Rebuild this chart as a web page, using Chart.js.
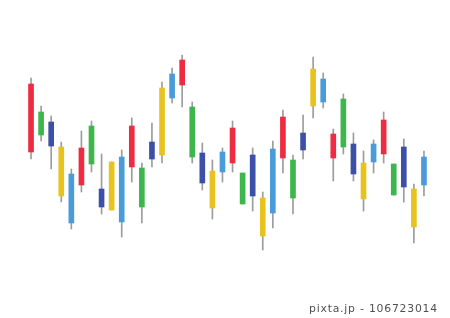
<!DOCTYPE html>
<html>
<head>
<meta charset="utf-8">
<script src="https://cdn.jsdelivr.net/npm/chart.js@4/dist/chart.umd.min.js"></script>
<style>
  html, body { margin: 0; padding: 0; background: #ffffff; }
  #wrap { position: relative; width: 450px; height: 318px; overflow: hidden; }
  #credit { position: absolute; left: 309px; top: 302px; font: 10.8px "DejaVu Sans", sans-serif; letter-spacing: 0.8px; color: #505050; white-space: nowrap; }
</style>
</head>
<body>
<div id="wrap">
  <canvas id="c" width="450" height="318"></canvas>
  <div id="credit">pixta.jp - 106723014</div>
</div>
<script>
// Candle values (arbitrary price units)
const categories = Array.from({length: 40}, (_, i) => String(i + 1));
const bodyHigh = [176,148,138,113,86,112,134,71,98,103,134,92,118,172,186,200,153,107,89,108,132,87,105,62,111,143,100,127,191,181,126,161,116,97,116,140,96,113,71,103];
const bodyLow  = [108,125,114,64,37,75,96,53,50,38,93,53,101,105,162,175,103,77,52,88,97,56,64,24,47,102,62,110,154,158,102,113,86,61,98,106,65,73,33,75];
const highs    = [182,154,144,118,91,129,139,106,98,110,142,97,137,178,192,205,158,117,100,112,139,87,112,68,119,150,105,145,203,187,131,166,127,109,120,148,96,121,76,109];
const lows     = [101,119,91,58,31,68,88,46,50,23,78,37,93,97,157,153,97,70,41,78,88,56,49,10,32,87,46,101,142,152,79,106,79,49,87,97,65,58,17,64];
const palette  = ['#ee2b40', '#3db64b', '#3b50a6', '#e8c31e', '#4a9bd9'];

const candleColors = categories.map((_, i) => palette[i % palette.length]);

new Chart(document.getElementById('c'), {
  type: 'bar',
  data: {
    labels: categories,
    datasets: [
      {
        label: 'body',
        data: bodyLow.map((v, i) => [v, bodyHigh[i]]),
        backgroundColor: candleColors,
        barThickness: 5,
        order: 1
      },
      {
        label: 'wick',
        data: lows.map((v, i) => [v, highs[i]]),
        backgroundColor: '#9c9c9c',
        barThickness: 1,
        order: 2
      }
    ]
  },
  options: {
    responsive: false,
    animation: false,
    grouped: false,
    layout: { padding: { left: 26, right: 21, top: 0, bottom: 0 } },
    plugins: { legend: { display: false }, tooltip: { enabled: false } },
    scales: {
      x: { display: false, offset: true },
      y: { display: false, min: -58, max: 260 }
    }
  }
});
</script>
</body>
</html>
